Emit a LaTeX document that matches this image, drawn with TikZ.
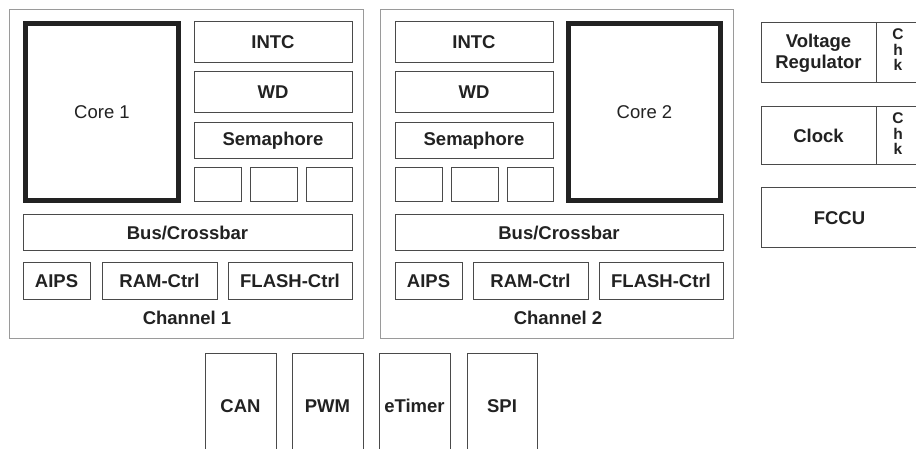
\documentclass[tikz,border=0pt]{standalone}
\usepackage{fontspec}
\setmainfont{Liberation Sans}
\definecolor{outerc}{HTML}{9A9A9A}
\definecolor{boxc}{HTML}{4A4A4A}
\definecolor{txtc}{HTML}{222222}
\tikzset{
  box/.style={draw=boxc, line width=1pt, inner sep=0pt, outer sep=0pt, text=txtc,
    font=\fontsize{18.5}{21}\selectfont\bfseries, align=center},
  outerbox/.style={box, draw=outerc},
  corebox/.style={box, draw=txtc, line width=5pt, font=\fontsize{18.5}{21}\selectfont},
  lbl/.style={text=txtc, inner sep=0pt, font=\fontsize{18.5}{21}\selectfont\bfseries},
  chk/.style={text=txtc, inner sep=0pt, anchor=base, font=\fontsize{15.5}{15.5}\selectfont\bfseries}
}
\newcommand\bx[7][]{\node[box,#1,minimum width={(#5)-(#3)},minimum height={(#6)-(#4)}] (#2) at ({((#3)+(#5))/2},{((#4)+(#6))/2}) {#7};}
\begin{document}
\begin{tikzpicture}[x=1pt,y=-1pt]
\useasboundingbox (0,0) rectangle (916,449);
\fill[white] (0,0) rectangle (916,449);
\clip (0,0) rectangle (916,449);
% Channel 1
\bx[outerbox]{ch1}{9}{10}{363}{338}{}
\bx[corebox]{core1}{25.5}{23.5}{178.5}{200.5}{Core 1}
\bx{intc1}{194}{22}{352}{63}{INTC}
\bx{wd1}{194}{72}{352}{113}{WD}
\bx{sem1}{194}{123}{352}{159}{Semaphore}
\bx{sa1}{194}{168}{241}{202}{}
\bx{sb1}{250}{168}{297}{202}{}
\bx{sc1}{306}{168}{352}{202}{}
\bx{bus1}{23}{215}{352}{251}{Bus/Crossbar}
\bx{aips1}{23}{263}{90}{299}{AIPS}
\bx{ram1}{102}{263}{217}{299}{RAM-Ctrl}
\bx{flash1}{228}{263}{352}{299}{FLASH-Ctrl}
\node[lbl] (lab1) at (187,318) {Channel 1};
% Channel 2
\bx[outerbox]{ch2}{380}{10}{733}{338}{}
\bx[corebox]{core2}{568.5}{23.5}{720.5}{200.5}{Core 2}
\bx{intc2}{395}{22}{553}{63}{INTC}
\bx{wd2}{395}{72}{553}{113}{WD}
\bx{sem2}{395}{123}{553}{159}{Semaphore}
\bx{sa2}{395}{168}{442}{202}{}
\bx{sb2}{451}{168}{498}{202}{}
\bx{sc2}{507}{168}{553}{202}{}
\bx{bus2}{395}{215}{723}{251}{Bus/Crossbar}
\bx{aips2}{395}{263}{462}{299}{AIPS}
\bx{ram2}{473}{263}{588}{299}{RAM-Ctrl}
\bx{flash2}{599}{263}{723}{299}{FLASH-Ctrl}
\node[lbl] (lab2) at (558,318) {Channel 2};
% Right column
\bx{vr}{761}{23}{876}{83}{Voltage\\Regulator}
\bx{vrchk}{876}{23}{918}{83}{}
\node[chk] (vrc) at (898,40) {C};
\node[chk] (vrh) at (898,55.5) {h};
\node[chk] (vrk) at (898,71) {k};
\bx{clk}{761}{107}{876}{165}{Clock}
\bx{clkchk}{876}{107}{918}{165}{}
\node[chk] (clc) at (898,124) {C};
\node[chk] (clh) at (898,139.5) {h};
\node[chk] (clk2) at (898,155) {k};
\bx{fccu}{761}{188}{918}{248}{FCCU}
% Peripherals
\bx{can}{205}{353}{276}{470}{}
\bx{pwm}{292}{353}{363}{470}{}
\bx{etimer}{379}{353}{450}{470}{}
\bx{spi}{467}{353}{537}{470}{}
\node[lbl] (cantxt) at (240.5,406) {CAN};
\node[lbl] (pwmtxt) at (327.5,406) {PWM};
\node[lbl] (ettxt) at (414.5,406) {eTimer};
\node[lbl] (spitxt) at (502,406) {SPI};
\end{tikzpicture}
\end{document}
